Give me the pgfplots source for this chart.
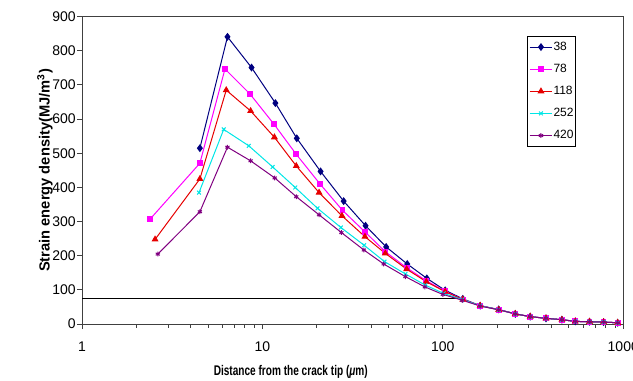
\documentclass[border=0pt]{standalone}
\usepackage{fontspec}
\setmainfont{Liberation Sans}
\usepackage{graphicx}
\usepackage{pgfplots}
\pgfplotsset{compat=1.18}
\definecolor{cA}{RGB}{0,0,128}
\definecolor{cB}{RGB}{255,0,255}
\definecolor{cC}{RGB}{230,0,0}
\definecolor{cD}{RGB}{0,230,230}
\definecolor{cE}{RGB}{128,0,128}
\begin{document}
\begin{tikzpicture}
\begin{axis}[name=ax, at={(0,0)}, anchor=south west,
  scale only axis, width=405.75pt, height=230.5pt,
  xmode=log, xmin=1, xmax=1000, ymin=0, ymax=900,
  xtick={1,10,100,1000}, xticklabels={1,10,100,1000},
  minor xtick={},
  ytick={0,100,...,900},
  tick align=outside, tick pos=left, major tick length=3.75pt,
  axis line style={black!75, line width=0.75pt},
  every tick/.style={black!75, line width=0.75pt},
  tick label style={font=\fontsize{10.5}{12}\selectfont},
  /pgf/number format/assume math mode=true,
  xticklabel style={yshift=-6pt},
  yticklabel style={xshift=2.5pt},
  legend style={at={(rel axis cs:0.8226,0.937)}, anchor=north west,
    draw=black, line width=0.75pt, font=\fontsize{9}{10}\selectfont,
    row sep=7.8pt, inner xsep=1pt, inner ysep=3.5pt,
    nodes={inner sep=0.5pt}},
  legend cell align=left,
  every axis plot/.append style={line width=0.75pt},
]
\addplot[black, line width=0.75pt, forget plot] coordinates {(1,76) (135,76)};
\addplot[cA, mark=diamond*, mark size=2.4pt, mark options={solid}] coordinates {
(4.5,515) (6.4,841) (8.7,751) (11.8,647) (15.5,544) (21,447) (28.2,360) (37.3,288) (48.5,226) (63.5,176) (81.5,134) (103,99) (129,74) (161,54) (204,43) (252,30) (305,22) (373,17) (457,13) (542,8) (650,7) (778,6) (931,4)};
\addlegendentry{38}
\addplot[cB, mark=square*, mark size=1.8pt] coordinates {
(2.38,307) (4.5,471) (6.2,747) (8.55,673) (11.6,585) (15.4,497) (20.8,411) (27.8,333) (37,270) (48,212) (63,165) (81,127) (103,96) (129,72) (161,54) (204,42) (252,30) (305,22) (373,17) (457,13) (542,8) (650,7) (778,6) (931,4)};
\addlegendentry{78}
\addplot[cC, mark=triangle*, mark size=2.3pt] coordinates {
(2.54,248) (4.5,425) (6.3,685) (8.6,624) (11.65,547) (15.4,463) (20.6,385) (27.6,317) (37,256) (48,207) (63,161) (81,124) (103,95) (129,72) (161,54) (204,42) (252,30) (305,22) (373,17) (457,13) (542,8) (650,7) (778,6) (931,4)};
\addlegendentry{118}
\addplot[cD, mark=x, mark size=2pt] coordinates {
(4.45,385) (6.1,570) (8.4,522) (11.4,460) (15.2,400) (20.2,339) (27.2,283) (36.6,231) (47.5,183) (62,147) (80,114) (101,90) (128,72) (161,54) (204,42) (252,30) (305,22) (373,17) (457,13) (542,8) (650,7) (778,6) (931,4)};
\addlegendentry{252}
\addplot[cE, mark=asterisk, mark size=1.8pt] coordinates {
(2.63,205) (4.5,329) (6.4,518) (8.6,478) (11.7,428) (15.4,373) (20.6,320) (27.4,268) (36.5,217) (47,176) (62,139) (79.5,109) (100,87) (128,70) (161,53) (204,42) (252,30) (305,22) (373,17) (457,13) (542,8) (650,7) (778,6) (931,4)};
\addlegendentry{420}
\end{axis}
\node[rotate=90, font=\bfseries\fontsize{11}{13}\selectfont] at ([xshift=-27.75pt]ax.west) {Strain energy density(MJ/m\textsuperscript{3})};
\node[font=\bfseries\fontsize{10.5}{12}\selectfont] at ([xshift=156.5pt,yshift=-36pt]ax.south west) {\scalebox{0.72}[1]{Distance from the crack tip (\textit{μ}m)}};
\pgfresetboundingbox
\path[use as bounding box] ([xshift=-61.5pt,yshift=-42pt]ax.south west) rectangle ([xshift=7.3pt,yshift=12.5pt]ax.north east);
\end{tikzpicture}
\end{document}
